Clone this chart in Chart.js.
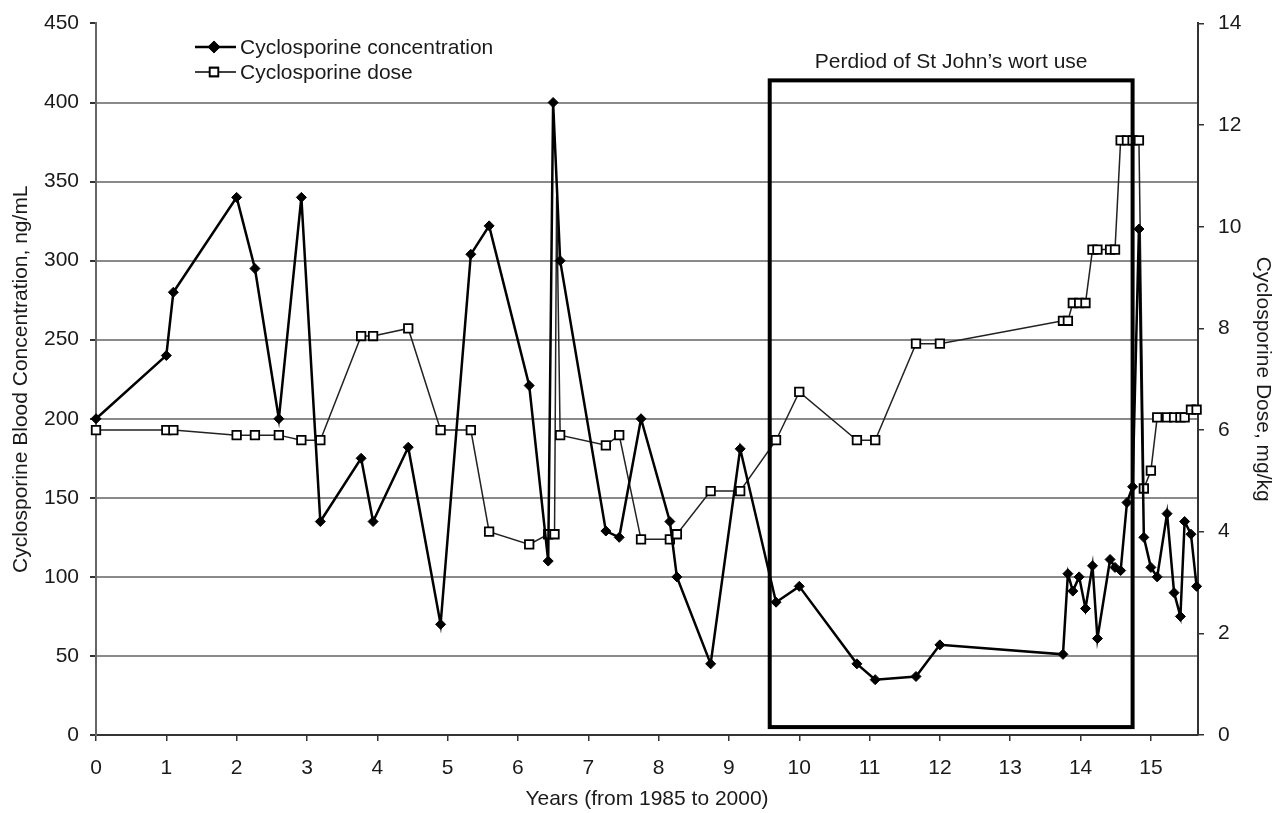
<!DOCTYPE html>
<html lang="en">
<head>
  <meta charset="UTF-8" />
  <title>Cyclosporine concentration and dose</title>
  <script src="https://cdn.jsdelivr.net/npm/chart.js"></script>
  <style>
    body {
      margin: 0;
      background: #ffffff;
    }
    .wrap {
      width: 1275px;
      height: 813px;
    }
  </style>
</head>
<body>
  <div class="wrap">
    <canvas id="chart" width="1275" height="813"></canvas>
  </div>

  <script>
    // Cyclosporine blood concentration (ng/mL), left axis
    const concYears = [0, 1.0, 1.1, 2.0, 2.26, 2.6, 2.92, 3.19, 3.77, 3.94, 4.44, 4.9, 5.33, 5.59, 6.16, 6.43, 6.5, 6.6,
      7.25, 7.44, 7.75, 8.16, 8.26, 8.74, 9.16, 9.67, 10.0, 10.82, 11.08, 11.66, 12.0, 13.75, 13.82, 13.89, 13.98,
      14.07, 14.17, 14.24, 14.42, 14.49, 14.57, 14.66, 14.74, 14.83, 14.9, 15.0, 15.09, 15.23, 15.33, 15.42, 15.48,
      15.57, 15.65];
    const concValues = [200, 240, 280, 340, 295, 200, 340, 135, 175, 135, 182, 70, 304, 322, 221, 110, 400, 300,
      129, 125, 200, 135, 100, 45, 181, 84, 94, 45, 35, 37, 57, 51, 102, 91, 100,
      80, 107, 61, 111, 106, 104, 147, 157, 320, 125, 106, 100, 140, 90, 75, 135,
      127, 94];

    // Cyclosporine dose (mg/kg), right axis
    const doseYears = [0, 1.0, 1.1, 2.0, 2.26, 2.6, 2.92, 3.19, 3.77, 3.94, 4.44, 4.9, 5.33, 5.59, 6.16, 6.43, 6.52,
      6.55, 6.6, 7.25, 7.44, 7.75, 8.16, 8.26, 8.74, 9.16, 9.67, 10.0, 10.82, 11.08, 11.66, 12.0, 13.75, 13.82,
      13.89, 13.98, 14.07, 14.17, 14.24, 14.42, 14.49, 14.57, 14.66, 14.74, 14.83, 14.9, 15.0, 15.09, 15.23,
      15.33, 15.42, 15.48, 15.57, 15.65];
    const doseValues = [6.0, 6.0, 6.0, 5.9, 5.9, 5.9, 5.8, 5.8, 7.85, 7.85, 8.0, 6.0, 6.0, 4.0, 3.75, 3.95, 3.95,
      10.6, 5.9, 5.7, 5.9, 3.85, 3.85, 3.95, 4.8, 4.8, 5.8, 6.75, 5.8, 5.8, 7.7, 7.7, 8.15, 8.15,
      8.5, 8.5, 8.5, 9.55, 9.55, 9.55, 9.55, 11.7, 11.7, 11.7, 11.7, 4.85, 5.2, 6.25, 6.25,
      6.25, 6.25, 6.25, 6.4, 6.4];
    const doseHiddenMarker = 17; // spike drawn without a marker

    // Period of St John's wort use (years, ng/mL)
    const wortYears = [9.58, 14.74];
    const wortConc = [5, 414];
    const wortLabel = 'Perdiod of St John\u2019s wort use';

    const xTicks = [0, 15.67];
    const concTicks = [0, 450, 50];
    const doseTicks = [0, 14, 2];

    const FONT = "'Liberation Sans', Arial, sans-serif";
    const SIZE = 21;
    const INK = '#1a1a1a';

    const concData = concYears.map((x, i) => ({ x, y: concValues[i] }));
    const doseData = doseYears.map((x, i) => ({ x, y: doseValues[i] }));

    // Box, its caption and the legend
    const overlay = {
      id: 'overlay',
      afterDatasetsDraw(chart) {
        const { ctx, scales } = chart;
        const x0 = scales.x.getPixelForValue(wortYears[0]);
        const x1 = scales.x.getPixelForValue(wortYears[1]);
        const y0 = scales.y.getPixelForValue(wortConc[1]);
        const y1 = scales.y.getPixelForValue(wortConc[0]);
        ctx.save();
        ctx.strokeStyle = '#000';
        ctx.lineWidth = 4;
        ctx.strokeRect(x0, y0, x1 - x0, y1 - y0);

        ctx.fillStyle = INK;
        ctx.font = SIZE + 'px ' + FONT;
        ctx.textAlign = 'center';
        ctx.textBaseline = 'middle';
        ctx.fillText(wortLabel, (x0 + x1) / 2, y0 - 18);

        // legend
        const lx = 195, lw = 41;
        const rows = [
          { y: 47, text: 'Cyclosporine concentration', width: 2.5, style: 'rectRot', r: 5, fill: '#000' },
          { y: 72, text: 'Cyclosporine dose', width: 1.5, style: 'rect', r: 6, fill: '#fff' }
        ];
        rows.forEach(row => {
          ctx.strokeStyle = '#000';
          ctx.lineWidth = row.width;
          ctx.beginPath();
          ctx.moveTo(lx, row.y);
          ctx.lineTo(lx + lw, row.y);
          ctx.stroke();
          ctx.fillStyle = row.fill;
          ctx.lineWidth = 1.8;
          Chart.helpers.drawPoint(ctx, { pointStyle: row.style, radius: row.r, borderWidth: 1.8 }, lx + 19, row.y);
          ctx.fill();
          ctx.stroke();
          ctx.fillStyle = INK;
          ctx.textAlign = 'left';
          ctx.fillText(row.text, lx + lw + 4, row.y + 1);
        });
        ctx.restore();
      }
    };

    new Chart(document.getElementById('chart'), {
      type: 'line',
      data: {
        datasets: [
          {
            label: 'Cyclosporine concentration',
            data: concData,
            yAxisID: 'y',
            borderColor: '#000',
            borderWidth: 2.5,
            pointStyle: 'rectRot',
            pointRadius: 5,
            pointBackgroundColor: '#000',
            pointBorderColor: '#000',
            pointBorderWidth: 1,
            tension: 0,
            clip: false,
            order: 1
          },
          {
            label: 'Cyclosporine dose',
            data: doseData,
            yAxisID: 'y2',
            borderColor: '#222',
            borderWidth: 1.5,
            pointStyle: 'rect',
            pointRadius: ctx => ctx.dataIndex === doseHiddenMarker ? 0 : 6,
            pointBackgroundColor: '#fff',
            pointBorderColor: '#000',
            pointBorderWidth: 1.8,
            tension: 0,
            clip: false,
            order: 2
          }
        ]
      },
      options: {
        responsive: false,
        animation: false,
        layout: { padding: { top: 23, left: 0, right: 0, bottom: 0 } },
        plugins: {
          legend: { display: false },
          tooltip: { enabled: false }
        },
        scales: {
          x: {
            type: 'linear',
            min: xTicks[0],
            max: xTicks[1],
            afterFit: s => { s.height = 78; },
            border: { color: '#333', width: 2 },
            grid: { drawOnChartArea: false, tickLength: 6, color: '#333', lineWidth: 1.5 },
            ticks: {
              stepSize: 1,
              includeBounds: false,
              padding: 15,
              color: INK,
              font: { family: FONT, size: SIZE },
              maxRotation: 0,
              callback: v => v
            },
            title: {
              display: true,
              text: 'Years (from 1985 to 2000)',
              color: INK,
              font: { family: FONT, size: SIZE },
              padding: { top: 0, bottom: 1 }
            }
          },
          y: {
            position: 'left',
            min: concTicks[0],
            max: concTicks[1],
            afterFit: s => { s.width = 96; },
            border: { color: '#666', width: 2 },
            grid: {
              color: ctx => ctx.tick && ctx.tick.value === concTicks[1] ? 'rgba(0,0,0,0)' : '#8a8a8a',
              tickColor: '#333',
              lineWidth: 2,
              tickLength: 6
            },
            ticks: {
              stepSize: concTicks[2],
              padding: 11,
              color: INK,
              font: { family: FONT, size: SIZE, lineHeight: 0.9 }
            },
            title: {
              display: true,
              text: 'Cyclosporine Blood Concentration, ng/mL',
              color: INK,
              font: { family: FONT, size: SIZE },
              padding: { top: 9, bottom: 0 }
            }
          },
          y2: {
            position: 'right',
            min: doseTicks[0],
            max: doseTicks[1],
            afterFit: s => { s.width = 77; },
            border: { color: '#333', width: 2 },
            grid: { drawOnChartArea: false, tickLength: 6, color: '#333', lineWidth: 1.5 },
            ticks: {
              stepSize: doseTicks[2],
              padding: 14,
              color: INK,
              font: { family: FONT, size: SIZE, lineHeight: 0.9 }
            },
            title: {
              display: true,
              text: 'Cyclosporine Dose, mg/kg',
              color: INK,
              font: { family: FONT, size: SIZE },
              padding: { top: 0, bottom: 6 }
            }
          }
        }
      },
      plugins: [overlay]
    });
  </script>
</body>
</html>
